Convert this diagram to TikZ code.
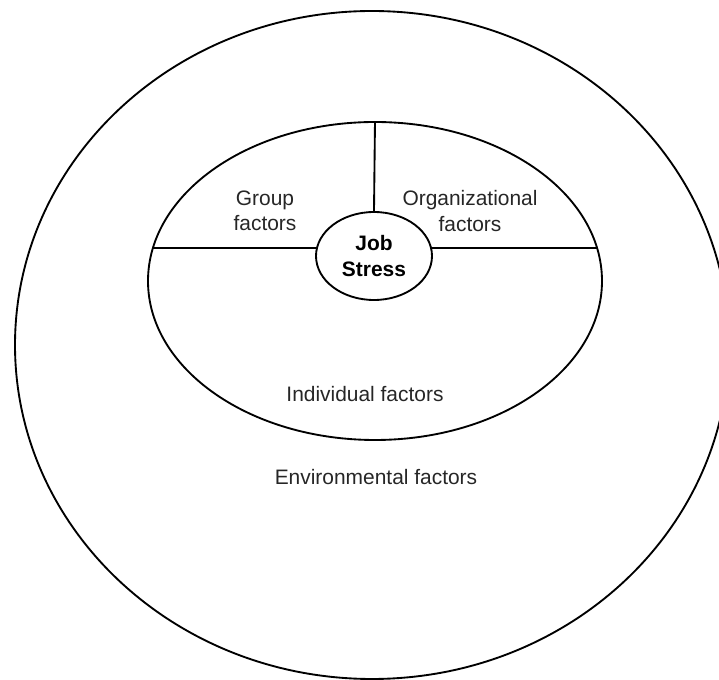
\documentclass[tikz,border=0pt]{standalone}
\usepackage{fontspec}
\setmainfont{Liberation Sans}
\usepackage{tikz}
\usetikzlibrary{shapes.geometric}

\begin{document}
\begin{tikzpicture}[
    x=0.75pt, y=-0.75pt,
    ring/.style={draw, ellipse, line width=1.4pt, inner sep=0pt},
    lbl/.style={align=center, font=\fontsize{15.7}{18.8}\selectfont, text=black!85},
    sep/.style={line width=1.4pt}
  ]
    \useasboundingbox (0,0) rectangle (719,680);
    \clip (0,0) rectangle (719,680);

    \node[ring, minimum width=535.5pt, minimum height=501pt] (env) at (372,345) {};
    \node[ring, minimum width=340.5pt, minimum height=238.5pt] (indiv) at (375,281) {};
    \node[ring, minimum width=87pt, minimum height=66pt, font=\fontsize{15.7}{18.8}\selectfont\bfseries, align=center] (stress) at (374,256) {Job\\Stress};

    % where the split line meets the inner ring
    \coordinate (cutl) at (153,248);
    \coordinate (cutr) at (597,248);

    \draw[sep] (indiv.north) -- (stress.north);
    \draw[sep] (stress.172) -- (stress.172 -| cutl);
    \draw[sep] (stress.8) -- (stress.8 -| cutr);

    \node[lbl] (group) at (265,211) {Group\\factors};
    \node[lbl] (org) at (470,211) {Organizational\\factors};
    \node[lbl] (indivlbl) at (365,394) {Individual factors};
    \node[lbl] (envlbl) at (376,477) {Environmental factors};
  \end{tikzpicture}
\end{document}
